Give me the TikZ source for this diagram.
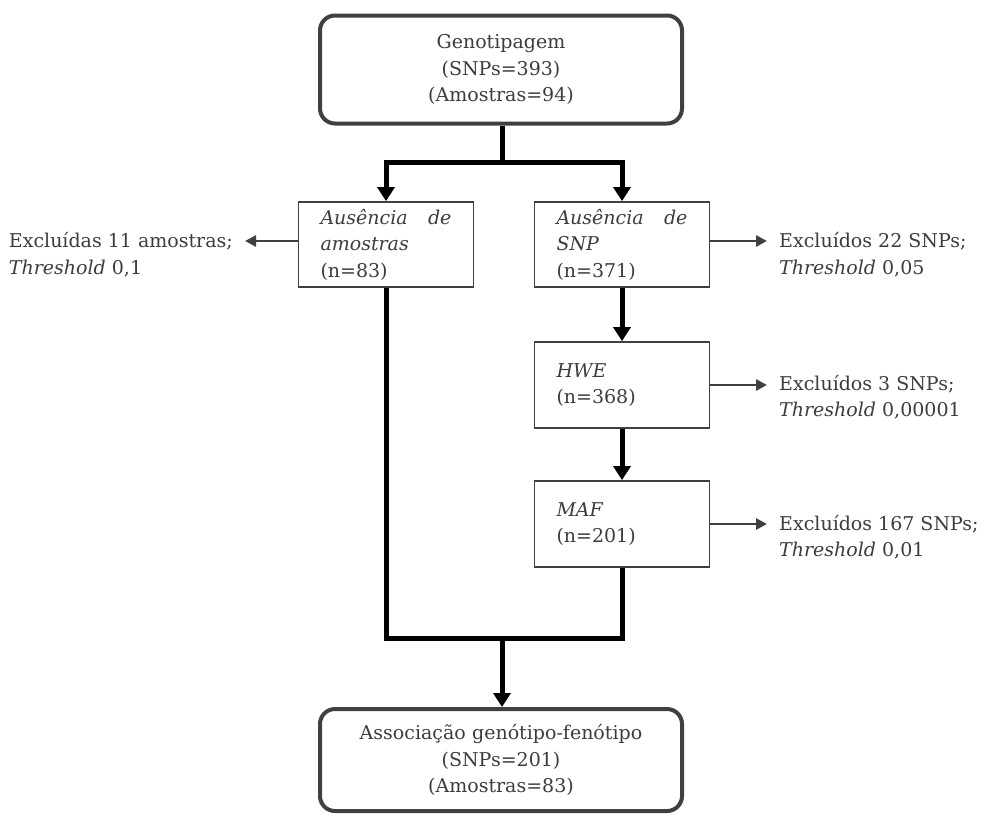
\documentclass[tikz,border=0pt]{standalone}
\usepackage{fontspec}
\setmainfont{DejaVu Serif}
\usetikzlibrary{arrows.meta,positioning}
\definecolor{txt}{HTML}{3C3C3C}
\definecolor{edge}{HTML}{404040}
\begin{document}
\begin{tikzpicture}[x=1pt,y=-1pt,
  font=\fontsize{19}{26.5}\selectfont, text=txt,
  roundbox/.style={draw=edge, line width=4pt, rounded corners=15pt, minimum width=362pt, inner sep=0pt, align=center, text width=340pt},
  stepbox/.style={draw=edge, line width=1.8pt, minimum width=175pt, minimum height=85pt, inner sep=0pt, text width=131pt, align=left},
  sidetext/.style={inner xsep=12pt, inner ysep=0pt, align=left},
  flowline/.style={line width=5pt, draw=black, line join=miter},
  flow/.style={flowline, -{Triangle[width=17pt,length=14pt]}},
  side/.style={line width=2.6pt, draw=edge, -{Triangle[width=11pt,length=11pt]}}
]
\useasboundingbox (0,0) rectangle (987,815);

\node[roundbox, minimum height=108pt] (top) at (501,69.5) {Genotipagem\\(SNPs=393)\\(Amostras=94)};

\node[stepbox] (aus) at (386,244.5) {\textit{Ausência}\hfill\textit{de}\\\textit{amostras}\\(n=83)};
\node[stepbox] (snp) at (622,244.5) {\textit{Ausência}\hfill\textit{de}\\\textit{SNP}\\(n=371)};
\node[stepbox, minimum height=86pt] (hwe) at (622,385) {\textit{HWE}\\(n=368)};
\node[stepbox, minimum height=86pt] (maf) at (622,524) {\textit{MAF}\\(n=201)};

\node[roundbox, minimum height=102pt] (bot) at (501,760) {Associação genótipo-fenótipo\\(SNPs=201)\\(Amostras=83)};

\node[sidetext, anchor=east] (tl) at (245,254.5) {Excluídas 11 amostras;\\\textit{Threshold} 0,1};
\node[sidetext, anchor=west] (t1) at (767,254.5) {Excluídos 22 SNPs;\\\textit{Threshold} 0,05};
\node[sidetext, anchor=west] (t2) at (767,397) {Excluídos 3 SNPs;\\\textit{Threshold} 0,00001};
\node[sidetext, anchor=west] (t3) at (767,537) {Excluídos 167 SNPs;\\\textit{Threshold} 0,01};

\coordinate (split) at (502,162);
\coordinate (join) at (502,638);

\draw[flowline] (top.south -| split) -- (split);
\draw[flow] (split) -| (aus.north);
\draw[flow] (split) -| (snp.north);
\draw[flow] (snp.south) -- (hwe.north);
\draw[flow] (hwe.south) -- (maf.north);
\draw[flowline] (aus.south) |- (join);
\draw[flowline] (maf.south) |- (join);
\draw[flow] (join) -- (bot.north -| join);

\draw[side] (aus.west |- 0,241) -- (tl.east |- 0,241);
\draw[side] (snp.east |- 0,241) -- (t1.west |- 0,241);
\draw[side] (hwe.east) -- (t2.west |- hwe.east);
\draw[side] (maf.east) -- (t3.west |- maf.east);
\end{tikzpicture}
\end{document}
